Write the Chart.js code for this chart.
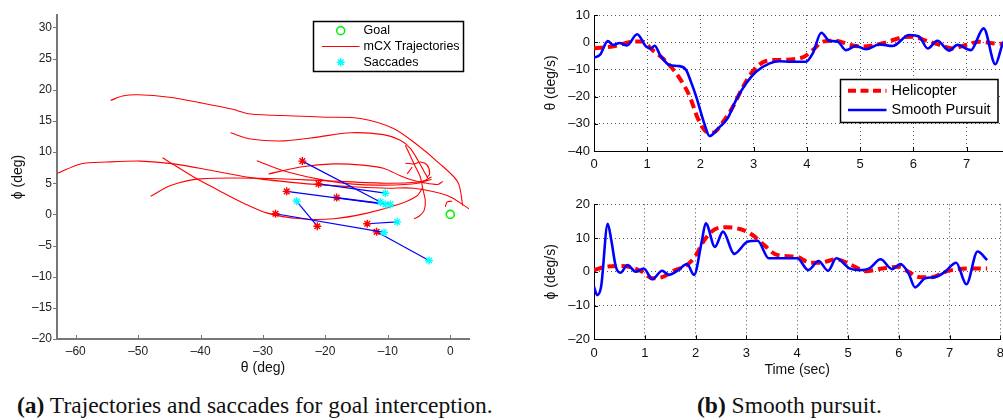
<!DOCTYPE html>
<html>
<head>
<meta charset="utf-8">
<script src="https://cdn.jsdelivr.net/npm/chart.js@4.4.1/dist/chart.umd.min.js"></script>
<style>
    body { margin: 0; background: #fff; overflow: hidden; }
    #page { position: relative; width: 1003px; height: 420px; overflow: hidden; background: #fff; }
    canvas { position: absolute; }
    #chartA { left: 0; top: 0; }
    #chartB1 { left: 540px; top: 0; }
    #chartB2 { left: 540px; top: 185px; }
    .caption { position: absolute; top: 392px; font-family: 'Liberation Serif', 'Times New Roman', serif; font-size: 23.5px; line-height: 27px; white-space: nowrap; color: #111; }
</style>
</head>
<body>
<div id="page">
    <canvas id="chartA" width="480" height="380"></canvas>
    <canvas id="chartB1" width="470" height="175"></canvas>
    <canvas id="chartB2" width="470" height="195"></canvas>
    <div class="caption" style="left:17px"><b>(a)</b> Trajectories and saccades for goal interception.</div>
    <div class="caption" style="left:697px"><b>(b)</b> Smooth pursuit.</div>
</div>
<script>
// ---- (a) trajectories, [theta, phi] in deg ----
const goal = [[0, 0]];
const traj1 = [[-54.4, 18.3], [-52.5, 19.0], [-50, 19.2], [-45, 18.8], [-40, 17.9], [-35, 16.9], [-32, 16.1], [-25, 15.8], [-20, 15.6], [-14.4, 15.4], [-9.1, 13.8], [-5.2, 11.1], [-2.0, 8.4], [1.2, 5.2], [2.0, 1.4]];
const traj2 = [[-35.2, 13.1], [-32, 12.1], [-26.6, 11.8], [-21.3, 12.4], [-16, 13.1], [-10.7, 12.8], [-8, 11.9], [-6.4, 10.6], [-5.2, 8.7], [-4.2, 6.9], [-3.6, 5.8]];
const traj3 = [[-62.9, 6.6], [-59.2, 8.1], [-55, 8.4], [-49.6, 8.55], [-44.3, 8.1], [-38, 7.0], [-32, 5.9], [-25, 5.1], [-20, 4.7], [-15, 4.4], [-10, 4.2], [-5.8, 4.2], [-0.4, 3.0], [3.0, 0.9]];
const traj4 = [[-46.1, 9.1], [-41.1, 6.0], [-37, 3.8], [-33.1, 1.8], [-29.3, 0.2], [-24, -0.7], [-18.7, -0.7], [-13.3, 0.2], [-8, 1.7], [-5.3, 3.0], [-4.5, 4.2]];
const traj5 = [[-48, 2.9], [-44.8, 4.65], [-40, 5.7], [-30.4, 5.8], [-20, 5.4], [-10, 5.0], [-5, 5.2], [-3, 5.6]];
const traj6 = [[-31, 8.6], [-26.7, 7.0], [-21.3, 5.7], [-16, 4.9], [-10.7, 4.7], [-5.2, 5.0], [-3, 6.0]];
const traj7 = [[-29.1, 6.5], [-24, 7.6], [-18.7, 8.1], [-14, 7.9], [-10.7, 7.4], [-8, 6.2], [-6.4, 5.6], [-4.3, 5.1], [-2, 4.8], [-1.2, 5.3]];
const traj8 = [[-7.2, 11.1], [-5.8, 8.1], [-4.8, 6.0], [-4.4, 4.1], [-4.0, 2.2], [-4.2, 0.6], [-5.0, -0.3], [-5.8, -0.7]];
const traj9 = [[-7.2, 8.2], [-5.8, 8.1], [-4.8, 8.4], [-3.7, 7.9], [-3.3, 6.5], [-3.7, 6.0]];
const traj10 = [[-6.9, 6.5], [-6.1, 7.6]];
const traj11 = [[-0.8, 1.2], [-0.5, 2.0], [0.3, 2.1]];
const trajectories = [traj1, traj2, traj3, traj4, traj5, traj6, traj7, traj8, traj9, traj10, traj11];

// saccades: start (red) -> end (cyan)
const saccadeStart = [[-23.7, 8.55], [-21.1, 4.9], [-26.2, 3.7], [-18.2, 2.7], [-21.3, -1.9], [-28.0, 0.1], [-13.3, -1.5], [-11.8, -2.8]];
const saccadeEnd = [[-11.2, 2.0], [-10.4, 3.4], [-10.4, 1.6], [-9.6, 1.6], [-24.6, 2.1], [-10.6, -2.9], [-8.5, -1.2], [-3.4, -7.4]];

const thetaTicksA = [-60, -50, -40, -30, -20, -10, 0];
const phiTicksA = [-20, -15, -10, -5, 0, 5, 10, 15, 20, 25, 30];
const legendLabelsA = ['Goal', 'mCX Trajectories', 'Saccades'];

// ---- (b) smooth pursuit ----
const pursuitThetaTime = [0, 0.11, 0.26, 0.36, 0.48, 0.62, 0.81, 0.98, 1.07, 1.14, 1.25, 1.42, 1.58, 1.73, 1.82, 1.92, 2.08, 2.17, 2.33, 2.51, 2.67, 2.86, 3.05, 3.3, 3.48, 3.7, 3.98, 4.11, 4.27, 4.42, 4.58, 4.73, 4.92, 5.11, 5.36, 5.61, 5.92, 6.11, 6.27, 6.45, 6.67, 6.83, 7.08, 7.32, 7.54, 7.67, 7.74];
const pursuitTheta = [-5.6, -4.7, 0.4, -1.0, -0.3, -1.2, 2.9, -1.6, -2.3, -1.3, -5.0, -8.4, -8.75, -10.2, -14.5, -20, -30.4, -34.5, -31.7, -28, -21.2, -15.1, -10.8, -7.8, -7.0, -7.2, -7.2, -4.1, 3.5, 0.55, 0.2, -2.9, -1.4, -2.6, -0.8, -1.4, 2.65, 2.0, -2.3, 0.55, -3.1, -1.0, -2.9, 5.1, -8.1, -1.0, 1.5];
const heliThetaTime = [0, 0.37, 0.73, 0.9, 1.1, 1.36, 1.61, 1.8, 1.95, 2.11, 2.23, 2.45, 2.61, 2.8, 2.98, 3.23, 3.48, 3.92, 4.11, 4.3, 4.55, 4.8, 5.05, 5.42, 5.8, 5.98, 6.24, 6.49, 6.74, 6.99, 7.24, 7.49, 7.74];
const heliTheta = [-2.3, -1.5, 0.2, 0.3, -2.9, -7.2, -13.3, -20, -28, -32.9, -33.3, -28.6, -23.7, -16.4, -10.8, -6.9, -6.5, -5.6, -2.9, 0.2, 0.55, -1.0, -1.6, -0.4, 1.8, 2.0, 0.55, -1.0, -2.3, -1.0, 0.2, -0.4, -0.7];

const pursuitPhiTime = [0, 0.06, 0.14, 0.27, 0.34, 0.43, 0.52, 0.66, 0.82, 0.98, 1.15, 1.34, 1.47, 1.66, 1.83, 1.97, 2.12, 2.2, 2.38, 2.54, 2.76, 3.02, 3.22, 3.44, 3.64, 4.0, 4.22, 4.42, 4.61, 4.77, 5.03, 5.22, 5.42, 5.64, 5.87, 6.03, 6.19, 6.32, 6.52, 6.71, 6.91, 7.13, 7.33, 7.55, 7.74];
const pursuitPhi = [-4.4, -6.9, -4.4, 14.2, 9.4, 1.5, -0.3, 2.0, 0.0, 1.0, -2.2, 0.3, -0.9, 0.5, 2.3, -0.9, 8.9, 14.4, 7.4, 11.9, 5.3, 8.9, 9.2, 4.0, 4.0, 4.0, 0.5, 3.2, 0.3, 4.0, 1.0, 0.5, 1.0, 3.7, 0.8, 2.3, -0.4, -4.6, -1.9, -1.6, 0.0, 2.7, -3.7, 6.0, 3.5];
const heliPhiTime = [0, 0.24, 0.5, 0.69, 0.95, 1.15, 1.34, 1.6, 1.8, 1.99, 2.15, 2.38, 2.6, 2.89, 3.12, 3.35, 3.6, 4.0, 4.25, 4.45, 4.77, 5.03, 5.35, 5.68, 6.0, 6.19, 6.42, 6.65, 6.91, 7.17, 7.43, 7.74];
const heliPhi = [0.5, 1.5, 1.7, 1.5, 0.0, -1.9, -1.6, 0.5, 1.7, 4.5, 8.9, 12.6, 13.2, 12.6, 10.9, 7.9, 5.0, 4.4, 2.7, 2.7, 3.7, 2.3, 0.2, 1.0, 1.5, 0.0, -1.6, -1.6, 0.0, 0.8, 1.0, 1.0];

const timeTicksTop = [0, 1, 2, 3, 4, 5, 6, 7];
const timeTicksBottom = [0, 1, 2, 3, 4, 5, 6, 7, 8];
const thetaRateTicks = [-40, -30, -20, -10, 0, 10];
const phiRateTicks = [-20, -10, 0, 10, 20];
const legendLabelsB = ['Helicopter', 'Smooth Pursuit'];

Chart.defaults.font.family = "'Liberation Sans', Arial, sans-serif";
Chart.defaults.color = '#111';

// helpers
function pairs(arr) { return arr.map(p => ({ x: p[0], y: p[1] })); }
function toPoints(xs, ys) { return xs.map((x, i) => ({ x: x, y: ys[i] })); }
function tickLabel(v) { return v < 0 ? '\u2013' + Math.abs(v) : String(v); }
function useTicks(list) { return scale => { scale.ticks = list.map(v => ({ value: v })); }; }
function fixWidth(w) { return scale => { scale.width = w; }; }
function fixHeight(h) { return scale => { scale.height = h; }; }

// small tick marks on the axes
const innerTicks = {
    id: 'innerTicks',
    beforeDatasetsDraw(chart, args, opts) {
        const { ctx, chartArea: area, scales } = chart;
        ctx.save();
        ctx.strokeStyle = opts.color;
        ctx.lineWidth = opts.width;
        ctx.beginPath();
        scales.x.ticks.forEach(t => {
            const px = Math.round(scales.x.getPixelForValue(t.value)) + 0.5;
            ctx.moveTo(px, area.bottom);
            ctx.lineTo(px, area.bottom - opts.xLength);
        });
        scales.y.ticks.forEach(t => {
            const py = Math.round(scales.y.getPixelForValue(t.value)) + 0.5;
            ctx.moveTo(area.left, py);
            ctx.lineTo(area.left + opts.yLength, py);
        });
        ctx.stroke();
        ctx.restore();
    }
};

// legend box inside the plot
const boxLegend = {
    id: 'boxLegend',
    afterDraw(chart, args, opts) {
        if (!opts.rows) return;
        const ctx = chart.ctx;
        ctx.save();
        ctx.fillStyle = '#fff';
        ctx.fillRect(opts.x, opts.y, opts.w, opts.h);
        ctx.strokeStyle = '#000';
        ctx.lineWidth = opts.borderWidth;
        ctx.strokeRect(opts.x, opts.y, opts.w, opts.h);
        ctx.font = opts.font;
        ctx.textBaseline = 'middle';
        opts.rows.forEach((row, i) => {
            const y = opts.y + opts.rowTop + i * opts.rowGap;
            const x0 = opts.x + opts.sampleLeft;
            const x1 = opts.x + opts.sampleRight;
            ctx.strokeStyle = row.color;
            if (row.lineWidth) {
                ctx.lineWidth = row.lineWidth;
                ctx.setLineDash(row.dash || []);
                ctx.beginPath();
                ctx.moveTo(x0, y);
                ctx.lineTo(x1, y);
                ctx.stroke();
                ctx.setLineDash([]);
            }
            if (row.marker) {
                ctx.lineWidth = 1.5;
                ctx.fillStyle = row.marker === 'star' ? row.color : 'rgba(0,0,0,0)';
                Chart.helpers.drawPoint(ctx, { pointStyle: row.marker, radius: 4, borderWidth: 1.5, rotation: 0 }, (x0 + x1) / 2, y);
            }
            ctx.fillStyle = '#000';
            ctx.fillText(row.label, opts.x + opts.textLeft, y);
        });
        ctx.restore();
    }
};

// ---- chart (a) ----
const datasetsA = [];
datasetsA.push({
    data: pairs(goal),
    showLine: false,
    pointStyle: 'circle',
    pointRadius: 4,
    pointBorderWidth: 1.6,
    pointBorderColor: '#00ee00',
    pointBackgroundColor: 'rgba(0,0,0,0)'
});
saccadeStart.forEach((s, i) => {
    datasetsA.push({
        data: pairs([s, saccadeEnd[i]]),
        showLine: true,
        borderColor: '#0000ff',
        borderWidth: 1.2,
        pointStyle: 'star',
        pointRadius: 4,
        pointBorderWidth: 1.4,
        pointBorderColor: ['#ff0000', '#00ffff'],
        pointBackgroundColor: ['#ff0000', '#00ffff']
    });
});
trajectories.forEach(t => {
    datasetsA.push({
        data: pairs(t),
        showLine: true,
        borderColor: '#ff0000',
        borderWidth: 1.1,
        pointRadius: 0,
        tension: 0.3
    });
});

new Chart(document.getElementById('chartA'), {
    type: 'scatter',
    data: { datasets: datasetsA },
    options: {
        responsive: false,
        animation: false,
        devicePixelRatio: 1,
        layout: { padding: { top: 15, right: 11, left: 0, bottom: 0 } },
        plugins: {
            legend: { display: false },
            tooltip: { enabled: false },
            innerTicks: { color: '#777', width: 1, xLength: 4, yLength: -4 },
            boxLegend: {
                x: 313.5, y: 21.5, w: 150, h: 50, borderWidth: 1.5, font: '12.5px "Liberation Sans", Arial, sans-serif',
                rowTop: 9.2, rowGap: 15.8, sampleLeft: 8.4, sampleRight: 46, textLeft: 50,
                rows: [
                    { label: legendLabelsA[0], color: '#00ee00', marker: 'circle' },
                    { label: legendLabelsA[1], color: '#ff0000', lineWidth: 1.1 },
                    { label: legendLabelsA[2], color: '#00ffff', marker: 'star' }
                ]
            }
        },
        scales: {
            x: {
                type: 'linear', min: -63, max: 3,
                afterBuildTicks: useTicks(thetaTicksA),
                afterFit: fixHeight(41),
                grid: { display: false, drawTicks: false },
                border: { color: '#777', width: 2 },
                ticks: { padding: 5, callback: tickLabel, color: '#222', font: { size: 12 }, maxRotation: 0, autoSkip: false },
                title: { display: true, text: 'θ (deg)', color: '#111', font: { size: 14 }, padding: { top: 0, bottom: 3.6 } }
            },
            y: {
                type: 'linear', min: -20, max: 32,
                afterBuildTicks: useTicks(phiTicksA),
                afterFit: fixWidth(57),
                grid: { display: false, drawTicks: false },
                border: { color: '#777', width: 2 },
                ticks: { padding: 5, callback: tickLabel, color: '#222', font: { size: 12 }, autoSkip: false },
                title: { display: true, text: 'ϕ (deg)', color: '#111', font: { size: 14 }, padding: { top: 9.6, bottom: 0 } }
            }
        }
    },
    plugins: [innerTicks, boxLegend]
});

// ---- chart (b) ----
function pursuitOptions(cfg) {
    return {
        responsive: false,
        animation: false,
        devicePixelRatio: 1,
        layout: { padding: { top: cfg.padTop, right: 4, left: 0, bottom: 0 } },
        plugins: {
            legend: { display: false },
            tooltip: { enabled: false },
            innerTicks: { color: '#000', width: 1, xLength: 4, yLength: 4 },
            boxLegend: cfg.legend || {}
        },
        scales: {
            x: {
                type: 'linear', min: 0, max: cfg.xMax,
                afterBuildTicks: useTicks(cfg.xTicks),
                afterFit: fixHeight(cfg.xHeight),
                grid: { color: '#555', lineWidth: 1, drawTicks: false },
                border: { color: '#000', width: 1, dash: [1, 3] },
                ticks: { padding: 6, callback: tickLabel, color: '#111', font: { size: 13 }, maxRotation: 0, autoSkip: false },
                title: { display: !!cfg.xTitle, text: cfg.xTitle || '', color: '#111', font: { size: 14 }, padding: { top: 0, bottom: 1.6 } }
            },
            y: {
                type: 'linear', min: cfg.yMin, max: cfg.yMax,
                afterBuildTicks: useTicks(cfg.yTicks),
                afterFit: fixWidth(54),
                grid: { color: '#555', lineWidth: 1, drawTicks: false },
                border: { color: '#000', width: 1, dash: [1, 3] },
                ticks: { padding: 4, callback: tickLabel, color: '#111', font: { size: 13 }, autoSkip: false },
                title: { display: true, text: cfg.yTitle, color: '#111', font: { size: 14 }, padding: { top: 2.6, bottom: 0 } }
            }
        }
    };
}

function pursuitDatasets(pursuitT, pursuitV, heliT, heliV) {
    return [
        {
            label: legendLabelsB[1],
            data: toPoints(pursuitT, pursuitV),
            showLine: true,
            borderColor: '#0000ff',
            borderWidth: 2.6,
            pointRadius: 0,
            cubicInterpolationMode: 'monotone'
        },
        {
            label: legendLabelsB[0],
            data: toPoints(heliT, heliV),
            showLine: true,
            borderColor: '#ff0000',
            borderWidth: 4,
            borderDash: [9, 5],
            pointRadius: 0,
            cubicInterpolationMode: 'monotone'
        }
    ];
}

new Chart(document.getElementById('chartB1'), {
    type: 'scatter',
    data: { datasets: pursuitDatasets(pursuitThetaTime, pursuitTheta, heliThetaTime, heliTheta) },
    options: pursuitOptions({
        padTop: 15, xHeight: 24, xMax: 7.74, xTicks: timeTicksTop,
        yMin: -40, yMax: 10, yTicks: thetaRateTicks, yTitle: 'θ (deg/s)',
        legend: {
            x: 300.5, y: 79.5, w: 157.5, h: 43, borderWidth: 1.5, font: '14.5px "Liberation Sans", Arial, sans-serif',
            rowTop: 11.2, rowGap: 19.3, sampleLeft: 7.5, sampleRight: 46, textLeft: 51,
            rows: [
                { label: legendLabelsB[0], color: '#ff0000', lineWidth: 4, dash: [8, 4.5] },
                { label: legendLabelsB[1], color: '#0000ff', lineWidth: 2.6 }
            ]
        }
    }),
    plugins: [innerTicks, boxLegend]
});

new Chart(document.getElementById('chartB2'), {
    type: 'scatter',
    data: { datasets: pursuitDatasets(pursuitPhiTime, pursuitPhi, heliPhiTime, heliPhi) },
    options: pursuitOptions({
        padTop: 19.3, xHeight: 40.7, xMax: 8, xTicks: timeTicksBottom, xTitle: 'Time (sec)',
        yMin: -20, yMax: 20, yTicks: phiRateTicks, yTitle: 'ϕ (deg/s)'
    }),
    plugins: [innerTicks, boxLegend]
});
</script>
</body>
</html>
